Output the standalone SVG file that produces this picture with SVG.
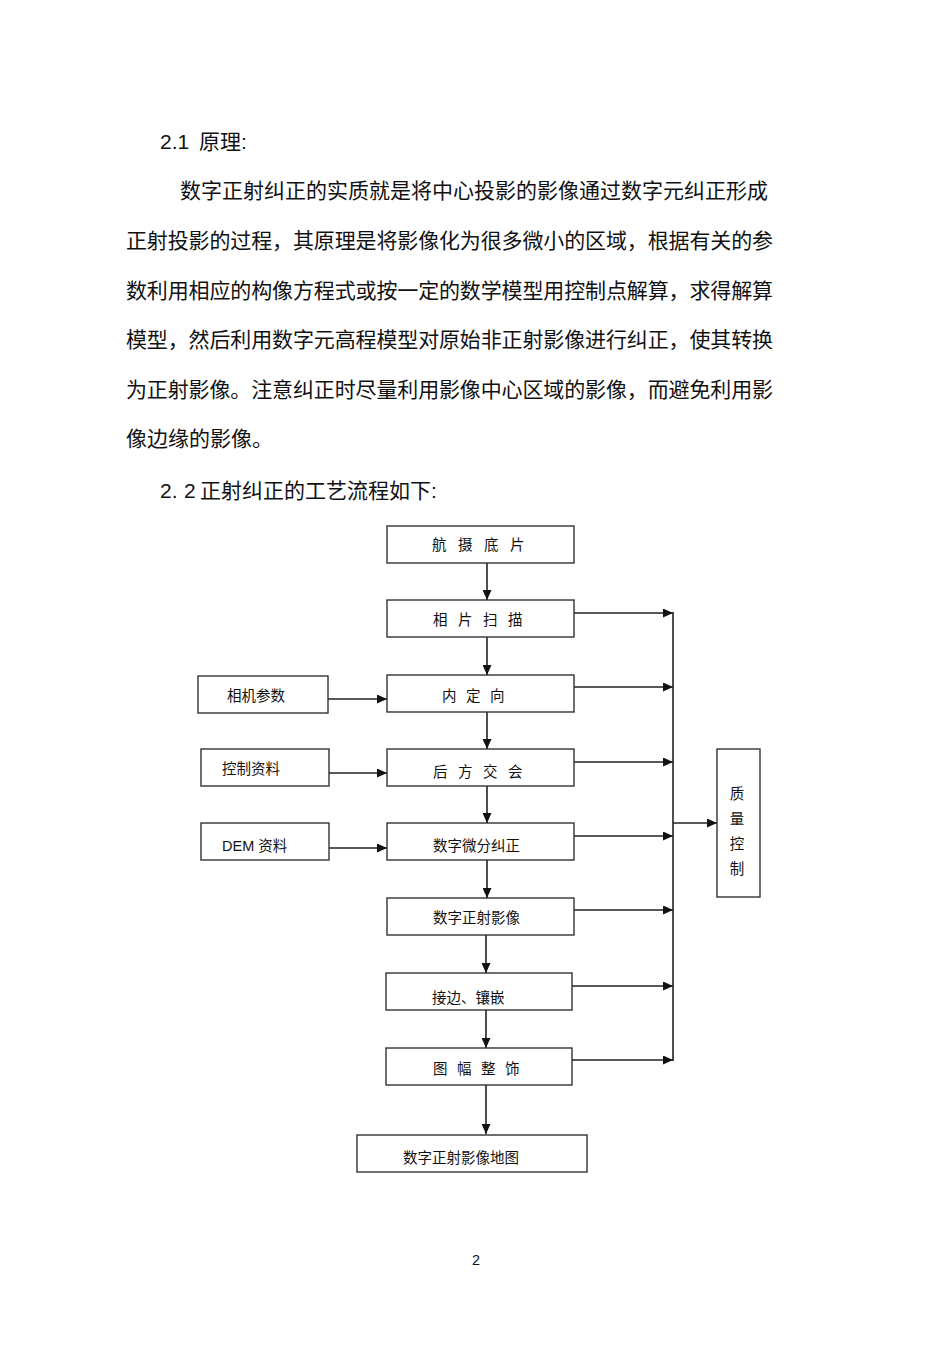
<svg xmlns="http://www.w3.org/2000/svg" width="950" height="1345" viewBox="0 0 950 1345">
<style>
.p{font-family:"Liberation Sans","Noto Sans CJK SC",sans-serif;font-size:21px;fill:#111}
.l{font-family:"Liberation Sans","Noto Sans CJK SC",sans-serif;font-size:14.5px;fill:#111}
.b{fill:#fff;stroke:#333;stroke-width:1.4}
.c{stroke:#222;stroke-width:1.6;fill:none}
</style>
<defs>
<marker id="ah" markerUnits="userSpaceOnUse" markerWidth="10" markerHeight="9" refX="10" refY="4.5" orient="auto">
<path d="M0,0 L10,4.5 L0,9 z" fill="#111"/>
</marker>
</defs>
<rect width="950" height="1345" fill="#fff"/>
<g id="text">
<text class="p" x="160" y="149">2.1<tspan x="199">原理:</tspan></text>
<text class="p" x="180" y="198" textLength="588" lengthAdjust="spacing">数字正射纠正的实质就是将中心投影的影像通过数字元纠正形成</text>
<text class="p" x="126" y="248" textLength="647" lengthAdjust="spacing">正射投影的过程，其原理是将影像化为很多微小的区域，根据有关的参</text>
<text class="p" x="126" y="298" textLength="647" lengthAdjust="spacing">数利用相应的构像方程式或按一定的数学模型用控制点解算，求得解算</text>
<text class="p" x="126" y="347" textLength="647" lengthAdjust="spacing">模型，然后利用数字元高程模型对原始非正射影像进行纠正，使其转换</text>
<text class="p" x="126" y="397" textLength="647" lengthAdjust="spacing">为正射影像。注意纠正时尽量利用影像中心区域的影像，而避免利用影</text>
<text class="p" x="126" y="446">像边缘的影像。</text>
<text class="p" x="160" y="498">2.<tspan x="184">2</tspan><tspan x="200">正射纠正的工艺流程如下:</tspan></text>
<text class="l" x="472" y="1265" font-size="13">2</text>
</g>
<g id="connectors">
<line class="c" x1="487" y1="563" x2="487" y2="600" marker-end="url(#ah)"/>
<line class="c" x1="487" y1="637" x2="487" y2="675" marker-end="url(#ah)"/>
<line class="c" x1="487" y1="712" x2="487" y2="749" marker-end="url(#ah)"/>
<line class="c" x1="487" y1="786" x2="487" y2="823" marker-end="url(#ah)"/>
<line class="c" x1="487" y1="860" x2="487" y2="898" marker-end="url(#ah)"/>
<line class="c" x1="486" y1="935" x2="486" y2="973" marker-end="url(#ah)"/>
<line class="c" x1="486" y1="1010" x2="486" y2="1048" marker-end="url(#ah)"/>
<line class="c" x1="486" y1="1085" x2="486" y2="1134" marker-end="url(#ah)"/>
<line class="c" x1="328" y1="699" x2="387" y2="699" marker-end="url(#ah)"/>
<line class="c" x1="329" y1="773" x2="387" y2="773" marker-end="url(#ah)"/>
<line class="c" x1="329" y1="848" x2="387" y2="848" marker-end="url(#ah)"/>
<line class="c" x1="574" y1="613" x2="673" y2="613" marker-end="url(#ah)"/>
<line class="c" x1="574" y1="687" x2="673" y2="687" marker-end="url(#ah)"/>
<line class="c" x1="574" y1="762" x2="673" y2="762" marker-end="url(#ah)"/>
<line class="c" x1="574" y1="836" x2="673" y2="836" marker-end="url(#ah)"/>
<line class="c" x1="574" y1="910" x2="673" y2="910" marker-end="url(#ah)"/>
<line class="c" x1="572" y1="986" x2="673" y2="986" marker-end="url(#ah)"/>
<line class="c" x1="572" y1="1060" x2="673" y2="1060" marker-end="url(#ah)"/>
<line class="c" x1="673" y1="612" x2="673" y2="1061"/>
<line class="c" x1="673" y1="823" x2="717" y2="823" marker-end="url(#ah)"/>
</g>
<g id="n1"><rect class="b" x="387" y="526" width="187" height="37"/><text class="l" x="432" y="549.5" letter-spacing="11.5">航摄底片</text></g>
<g id="n2"><rect class="b" x="387" y="600" width="187" height="37"/><text class="l" x="433" y="624.5" letter-spacing="10.5">相片扫描</text></g>
<g id="n3"><rect class="b" x="387" y="675" width="187" height="37"/><text class="l" x="442" y="700.5" letter-spacing="9.5">内定向</text></g>
<g id="n4"><rect class="b" x="387" y="749" width="187" height="37"/><text class="l" x="433" y="776.5" letter-spacing="10.5">后方交会</text></g>
<g id="n5"><rect class="b" x="387" y="823" width="187" height="37"/><text class="l" x="433" y="850.5">数字微分纠正</text></g>
<g id="n6"><rect class="b" x="387" y="898" width="187" height="37"/><text class="l" x="433" y="922.5">数字正射影像</text></g>
<g id="n7"><rect class="b" x="386" y="973" width="186" height="37"/><text class="l" x="432" y="1002.5">接边、镶嵌</text></g>
<g id="n8"><rect class="b" x="386" y="1048" width="186" height="37"/><text class="l" x="433" y="1073.5" letter-spacing="9.5">图幅整饰</text></g>
<g id="n9"><rect class="b" x="357" y="1135" width="230" height="37"/><text class="l" x="403" y="1162.5">数字正射影像地图</text></g>
<g id="i1"><rect class="b" x="198" y="676" width="130" height="37"/><text class="l" x="227" y="700.5">相机参数</text></g>
<g id="i2"><rect class="b" x="201" y="749" width="128" height="37"/><text class="l" x="222" y="773.5">控制资料</text></g>
<g id="i3"><rect class="b" x="201" y="823" width="128" height="37"/><text class="l" x="222" y="850.5">DEM  资料</text></g>
<g id="qc"><rect class="b" x="717" y="749" width="43" height="148"/>
<text class="l" x="737" y="798.5" text-anchor="middle">质</text>
<text class="l" x="737" y="823.5" text-anchor="middle">量</text>
<text class="l" x="737" y="848.5" text-anchor="middle">控</text>
<text class="l" x="737" y="873.5" text-anchor="middle">制</text></g>
</svg>
